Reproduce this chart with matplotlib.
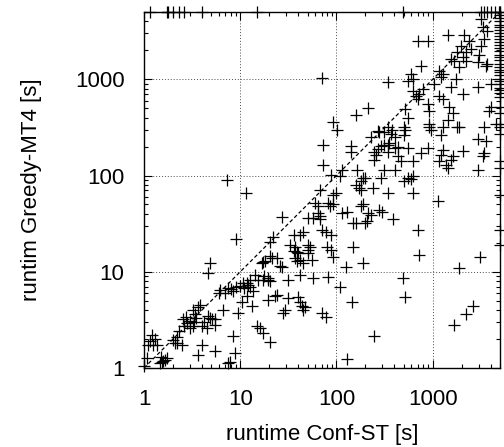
import matplotlib
matplotlib.use('Agg')
import matplotlib.pyplot as plt
from matplotlib.ticker import FixedLocator, LogLocator, NullFormatter

plt.rcParams['font.family'] = ['Liberation Sans', 'DejaVu Sans']

# --- runtimes [s], both solvers finished ---
conf_st = [
    # lower left
    4.8, 4.6, 17, 14.3, 15.4, 6.2, 7.5, 8.4, 10, 10.7, 12.1, 11.8, 13.7, 13.3, 9.5, 6.6,
    3.2, 3.8, 2.55, 3.0, 3.2, 4.6, 5.1, 5.5, 4.5, 4.0, 15, 16.2, 1.2, 1.24, 1.1, 1.37,
    2.0, 2.2, 2.5, 4.0, 8.4, 3.65, 5.5, 8.9, 7.5, 1.58, 1.74, 1.47, 1.07, 1.0,
    1.65, 1.54, 2.1, 3.65, 5.5, 7.9,
    1.15, 1.3, 1.5, 2.2, 2.6, 2.8, 3.3, 3.5, 2.7, 3.4, 4.2, 4.8, 3.0, 2.3, 6.0, 7.0,
    8.0, 9.0, 11, 12.5,
    # middle
    7.3, 11.6, 9.1, 27, 22, 20.5, 17.4, 21.5, 24, 27, 31, 36, 33, 37, 39, 45,
    50, 53, 50, 42, 45, 56, 57, 65, 68, 71, 77, 80, 91, 82, 57, 42,
    19.6, 17.8, 12.7, 11.8, 24, 31, 40, 42, 47, 19.6, 10.5, 17.4, 20.5, 71, 77,
    87, 91, 82, 91, 115, 130, 150, 200, 187, 215, 300, 390, 700, 715, 150, 187,
    127, 110, 146, 243, 130, 490, 520, 1130, 1870, 3100, 1650, 2200, 2600, 340, 620, 110,
    158, 187, 237, 290, 500, 550, 630, 178,
    102, 73, 73, 140, 140, 226, 274, 255, 243, 268, 290, 115, 165, 180, 200, 170,
    98, 85, 65, 68, 60, 68, 51, 87, 42, 178, 158, 210, 226, 274,
    310, 365, 410, 520, 500, 310, 350, 410, 550, 910, 950, 1210, 1870, 890, 750, 630,
    465, 410, 310, 1270, 1210, 1150, 1370, 1430, 1550, 2050, 2950, 3550, 3400, 2950, 590,
    # upper right
    3160, 1430, 890, 2100, 2370, 1950, 1800, 2200, 2500, 3160, 3000, 3400, 3700, 3300, 1550, 1650,
    2050, 2200, 1870, 2950, 3550, 3700, 750, 590, 620, 560, 1150, 1270, 1210, 340, 1730, 1020,
    1550, 2050, 2950, 4000, 790, 715, 670, 700, 620, 1150, 1270, 520, 890, 910, 1470, 1620,
    560, 1430, 3830, 4000, 340, 910, 1270, 1800, 3400, 4500,
    71, 700, 215, 158, 91, 500, 380, 268, 340, 243, 340, 440, 440, 1620, 3300,
    20.5, 18.2, 26, 36, 40, 51, 39, 37, 87, 17.4, 20.5, 19.6, 23, 44, 45, 29.5, 28,
]
greedy_mt4 = [
    12.4, 9.8, 12.4, 9.3, 8.2, 6.5, 6.8, 6.3, 7.1, 7.7, 7.3, 5.6, 6.3, 4.4, 3.7, 4.0,
    4.0, 4.5, 3.2, 3.1, 2.7, 3.5, 3.2, 2.8, 2.6, 2.7, 2.7, 2.6, 2.2, 1.74, 1.74, 1.74,
    1.96, 1.8, 1.74, 1.74, 2.15, 1.37, 1.5, 1.43, 1.13, 1.18, 1.27, 1.13, 1.27, 1.05,
    1.21, 1.15, 1.82, 4.3, 3.2, 1.15,
    1.9, 2.0, 1.3, 2.1, 2.7, 2.9, 3.0, 3.3, 3.4, 3.6, 3.0, 3.3, 2.6, 2.4, 6.0, 6.0,
    6.6, 6.9, 6.7, 6.9,
    89, 66, 22, 37, 23, 20.5, 12.7, 14, 14, 11.3, 8.2, 24, 19, 18, 16, 26,
    19, 18, 15.8, 13.4, 12.4, 13.4, 36, 41, 35, 27, 26, 18, 14.3, 8.9, 8.7, 9.3,
    8.2, 9.1, 8.2, 7.7, 5.8, 5.4, 5.5, 4.8, 4.3, 5.1, 4.8, 2.3, 1.87, 3.7, 3.4,
    102, 63, 52, 50, 41, 42, 32, 32, 50, 41, 42, 35, 27, 15, 18, 12.4,
    11.3, 7.0, 4.8, 2.15, 1.24, 8.7, 5.5, 55, 11, 14.3, 2.8, 3.6, 4.4, 66, 66, 98,
    80, 95, 75, 95, 87, 95, 98, 71,
    300, 210, 130, 205, 174, 250, 280, 162, 146, 187, 205, 115, 115, 88, 95, 75,
    66, 48, 48, 71, 52, 38, 36, 24, 24, 48, 32, 34, 39, 44,
    280, 268, 250, 300, 262, 210, 220, 195, 195, 316, 295, 262, 316, 195, 170, 143,
    143, 115, 115, 183, 162, 143, 130, 121, 146, 178, 237, 230, 170, 113, 91,
    4200, 2900, 2500, 2900, 2500, 2200, 1900, 1900, 2050, 2200, 1800, 2600, 3160, 3500, 1620, 1550,
    1700, 1550, 1330, 1520, 1370, 1430, 1370, 1130, 1000, 955, 1210, 1130, 1050, 930, 1000, 890,
    830, 700, 830, 890, 790, 700, 670, 620, 750, 670, 620, 490, 560, 465, 520, 450,
    400, 380, 465, 520, 316, 340, 320, 320, 320, 340,
    1020, 2500, 500, 430, 360, 320, 300, 290, 210, 174, 174, 200, 158, 158, 158,
    14.7, 13, 11.5, 16.6, 15.8, 17, 13, 14, 17, 8.2, 8.0, 8.7, 5.6, 4.4, 4.0, 4.0, 3.7,
]

# --- timeouts (5000 s) ---
timeout = 5000
greedy_when_conf_timeout = [
    4950, 4600, 4300, 4050, 3700, 3500, 3250, 3000, 2800, 2600, 2450, 2250, 2100, 1950,
    1800, 1700, 1600, 1450, 1350, 1250, 1200, 1100, 1000, 950, 900, 820, 780, 720, 650,
    520, 450, 340, 320, 270, 143, 121, 63, 27, 19,
]
conf_when_greedy_timeout = [1.15, 1.74, 1.78, 2.0, 2.3, 2.6, 4.0, 15, 490, 3150, 3400, 3700, 4000, 4400, 4900]

xs = conf_st + [timeout] * len(greedy_when_conf_timeout) + conf_when_greedy_timeout + [timeout]
ys = greedy_mt4 + greedy_when_conf_timeout + [timeout] * len(conf_when_greedy_timeout) + [timeout]

fig = plt.figure(figsize=(5.04, 4.47), dpi=100)
ax = fig.add_axes([144 / 504, 79 / 447, 356 / 504, 356 / 447])

ax.plot([1, timeout], [1, timeout], color='black', lw=0.9, ls=(0, (3, 2)), zorder=2)
ax.plot(xs, ys, ls='none', marker='+', ms=9, mew=0.9, color='black', clip_on=False, zorder=3)

ax.set_xscale('log')
ax.set_yscale('log')
ax.set_xlim(1, timeout)
ax.set_ylim(1, timeout)

major = [1, 10, 100, 1000]
for axis in (ax.xaxis, ax.yaxis):
    axis.set_major_locator(FixedLocator(major))
    axis.set_minor_locator(LogLocator(base=10, subs=range(2, 10)))
    axis.set_minor_formatter(NullFormatter())
ax.set_xticklabels(['1', '10', '100', '1000'])
ax.set_yticklabels(['1', '10', '100', '1000'])

ax.tick_params(which='both', direction='in', top=True, right=True, labelsize=16, width=0.8)
ax.tick_params(axis='x', which='major', length=6, pad=15)
ax.tick_params(axis='y', which='major', length=6, pad=14)
ax.tick_params(which='minor', length=3)

ax.grid(True, which='major', color='0.3', ls=(0, (1, 2)), lw=0.7)
for s in ax.spines.values():
    s.set_linewidth(1.0)

ax.set_xlabel('runtime Conf-ST [s]', fontsize=16, labelpad=10)
ax.set_ylabel('runtim Greedy-MT4 [s]', fontsize=16, labelpad=24)

plt.savefig('out.png', dpi=100)
